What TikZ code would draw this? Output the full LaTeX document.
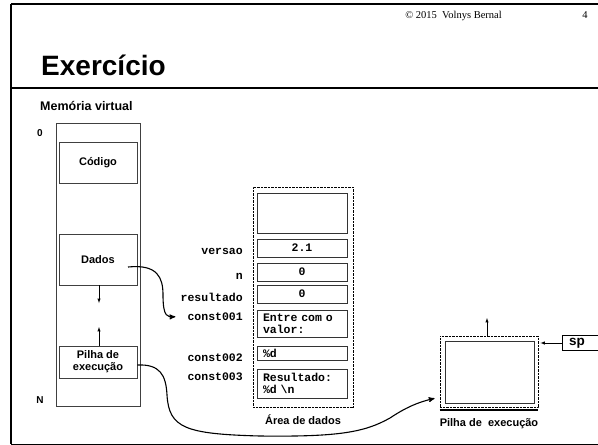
\documentclass[tikz,border=0pt]{standalone}
\usepackage{fontspec}
\setmainfont{Liberation Serif}
\setsansfont{Liberation Sans}
\setmonofont{Liberation Mono}
\usetikzlibrary{shapes,arrows,positioning}

\begin{document}
\begin{tikzpicture}[x=1pt,y=-1pt]
\tikzset{font={\sffamily\bfseries\fontsize{11}{12}\selectfont}}
\tikzset{memblock/.style={draw=black!75,line width=0.7pt,minimum width=78pt,align=center,inner sep=0pt}}
\tikzset{cell/.style={draw=black!80,line width=0.7pt,minimum width=90pt,inner sep=2pt,font={\ttfamily\bfseries\fontsize{11.5}{12}\selectfont}}}
\tikzset{cellleft/.style={cell,align=left,text width=78pt,inner xsep=6pt}}
\tikzset{varname/.style={anchor=base east,inner sep=1pt,font={\ttfamily\bfseries\fontsize{11.5}{12}\selectfont}}}
\tikzset{area/.style={draw,dash pattern=on 0.7pt off 0.7pt,line width=0.9pt,inner sep=0pt}}
\tikzset{bigarrow/.style={-stealth',line width=1.1pt}}
\tikzset{smallarrow/.style={-latex,line width=0.5pt}}
\useasboundingbox (0,0) rectangle (598,445);

%Frame
\draw[line width=2pt] (11,3.5) -- (598,3.5);
\draw[line width=2pt] (11,87.5) -- (598,87.5);
\draw[line width=1.3pt] (11,3.5) -- (11,444);
\draw[line width=1pt] (11,444) -- (598,444);
\node[anchor=base east,inner sep=0pt,font={\rmfamily\mdseries\fontsize{10.5}{12}\selectfont}] (copy) at (502,18) {\textcopyright{} 2015\ \ Volnys Bernal};
\node[anchor=base,inner sep=0pt,font={\rmfamily\mdseries\fontsize{10.5}{12}\selectfont}] (pagenum) at (585,18) {4};
\node[anchor=base west,inner sep=0pt,font={\sffamily\bfseries\fontsize{28}{30}\selectfont}] (title) at (41,75) {Exercício};
\node[anchor=base west,inner sep=0pt,font={\sffamily\bfseries\fontsize{12.5}{14}\selectfont}] (subtitle) at (40,110) {Memória virtual};

%Memoria virtual
\node[draw=black!75,line width=0.7pt,minimum width=84pt,minimum height=283pt,inner sep=0pt] (mem) at (98,264.5) {};
\node[memblock,minimum height=41pt] (codigo) at (98,162.5) {Código};
\node[memblock,minimum height=51pt] (dados) at (98,259.5) {Dados};
\node[memblock,minimum height=32pt] (pilha) at (98,362) {Pilha de\\execução};
\node[font={\sffamily\bfseries\fontsize{10}{12}\selectfont}] (zero) at (40,133) {0};
\node[font={\sffamily\bfseries\fontsize{10}{12}\selectfont}] (enne) at (40,400) {N};
\coordinate (growdown) at (99,303);
\coordinate (growup) at (99,327);
\draw[smallarrow] (dados.south -| growdown) -- (growdown);
\draw[smallarrow] (pilha.north -| growup) -- (growup);

%Area de dados
\node[area,minimum width=100pt,minimum height=220pt] (dataarea) at (303,297) {};
\node[cell,minimum height=40pt] (c0) at (302,213) {};
\foreach \nm/\y/\v in {c1/248/2.1, c2/272/0, c3/294/0}
\node[cell,minimum height=18pt] (\nm) at (302,\y) {\v};
\node[cellleft,minimum height=27pt] (c4) at (302,323.5) {Entre com o\\valor:};
\node[cellleft,minimum height=14pt] (c5) at (302,353) {\%d};
\node[cellleft,minimum height=29pt] (c6) at (302,383.5) {Resultado:\\\%d \textbackslash n};
\foreach \nm/\y in {versao/254.5, n/279.5, resultado/301.5, const001/320.5, const002/361.5, const003/380.5}
\node[varname] (l\nm) at (244,\y) {\nm};
\node (areadados) at (303,420) {Área de dados};

%Pilha de execucao
\node[area,minimum width=98pt,minimum height=71pt] (stackarea) at (489,371.5) {};
\node[draw=black!80,line width=0.7pt,minimum width=89pt,minimum height=62pt,inner sep=0pt] (stackbox) at (489.5,372) {};
\draw[line width=2pt] ([yshift=-2.5pt]stackarea.south west) -- ([yshift=-2.5pt]stackarea.south east);
\node (stacklabel) at (489,424) {Pilha de\ \ execução};
\coordinate (stacktop) at (487,318);
\draw[smallarrow] (stackarea.north -| stacktop) -- (stacktop);
\node[anchor=west,inner xsep=7pt,inner ysep=0pt,minimum height=14pt,font={\sffamily\bfseries\fontsize{13.5}{14}\selectfont}] (sp) at (562,343) {sp};
\draw[line width=0.8pt] ([xshift=40pt]sp.north west) -| (sp.south west) -- ++(40,0);
\draw[smallarrow,shorten >=2pt] (sp.west) -- (sp.west -| stackarea.east);

% ponteiros
\draw[bigarrow] ([xshift=30pt,yshift=-7.5pt]dados.center) .. controls (158,264) and (163,278) .. (163,295) .. controls (163,318) and (168,317) .. ([xshift=-11pt]lconst001.west);
\draw[bigarrow] ([yshift=-3pt]pilha.east) .. controls (160,364) and (166,375) .. (167,395) .. controls (169,428) and (185,434) .. (260,436) .. controls (340,437) and (365,432) .. (390,418) .. controls (405,408) and (418,402) .. ([xshift=-5pt,yshift=9pt]stackarea.south west);

\end{tikzpicture}
\end{document}
